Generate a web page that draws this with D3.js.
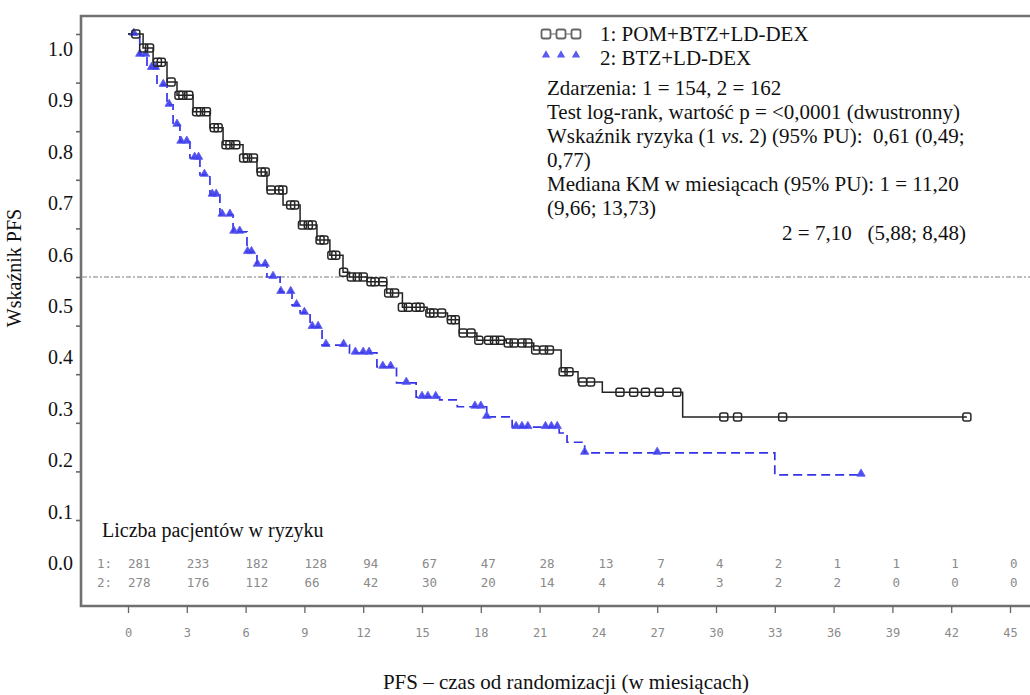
<!DOCTYPE html>
<html><head><meta charset="utf-8">
<script src="https://cdn.jsdelivr.net/npm/d3@7"></script>
<style>body{margin:0;background:#fff}svg{display:block}</style>
</head><body><svg id="c" width="1030" height="695"></svg>
<script>
// ---- data ----
const times1 = [0,0.77,1.28,1.99,2.5,3.32,4.18,4.85,5.87,6.58,7.09,7.91,8.78,9.64,10.3,10.97,11.3,12.2,13.2,14.0,15.26,16.3,16.9,17.8,19.3,20.7,22.1,22.96,24.2,28.3];
const surv1  = [1,0.971,0.942,0.901,0.874,0.840,0.807,0.772,0.745,0.716,0.679,0.648,0.607,0.576,0.545,0.510,0.500,0.490,0.467,0.438,0.426,0.412,0.385,0.370,0.364,0.350,0.305,0.284,0.263,0.212];
const cens1  = [0.4,0.8,1.1,1.5,1.7,2.2,2.6,2.8,3.1,3.5,3.7,4.0,4.4,4.6,5.0,5.2,5.5,5.9,6.1,6.4,6.8,7.0,7.3,7.7,7.9,8.3,8.5,8.9,9.2,9.4,9.8,10.0,10.4,10.6,11.0,11.4,11.7,12.0,12.4,12.6,13.0,13.3,13.6,14.0,14.3,14.7,14.9,15.4,15.6,16.0,16.5,16.7,17.1,17.5,17.9,18.4,18.7,19.0,19.4,19.7,20.1,20.4,20.8,21.2,21.5,22.2,22.5,23.2,23.6,25.1,25.8,26.4,27.1,28.0,30.4,31.1,33.4,42.8];
const times2 = [0,0.6,0.97,1.48,1.99,2.3,2.65,3.16,3.67,4.18,4.69,5.36,6.07,6.58,7.09,7.76,8.37,8.78,9.29,9.9,11.3,12.7,13.7,14.7,15.9,16.8,18.3,19.6,22.0,22.4,23.3,33.0];
const surv2  = [1,0.957,0.930,0.895,0.854,0.813,0.778,0.745,0.710,0.669,0.628,0.593,0.551,0.525,0.500,0.469,0.442,0.426,0.397,0.360,0.344,0.315,0.282,0.253,0.247,0.233,0.212,0.191,0.179,0.160,0.138,0.093];
const cens2  = [0.3,0.6,0.9,1.2,1.4,1.8,2.1,2.5,2.7,3.0,3.4,3.6,3.9,4.3,4.5,4.8,5.2,5.4,5.7,6.1,6.3,6.6,7.0,7.4,7.8,8.3,8.6,9.0,9.4,9.7,10.1,11.0,11.6,12.0,12.3,13.0,13.4,14.2,15.0,15.3,15.7,17.7,18.0,18.3,19.8,20.1,20.4,21.3,21.6,21.9,23.3,27.0,37.4];
const xTicks = [0,3,6,9,12,15,18,21,24,27,30,33,36,39,42,45];
const yTicks = [0,0.1,0.2,0.3,0.4,0.5,0.6,0.7,0.8,0.9,1.0];
const risk1 = [281,233,182,128,94,67,47,28,13,7,4,2,1,1,1,0];
const risk2 = [278,176,112,66,42,30,20,14,4,4,3,2,2,0,0,0];
const legendLabels = ["1: POM+BTZ+LD-DEX","2: BTZ+LD-DEX"];
const medianLevel = 0.5;

// ---- layout ----
const svg = d3.select("#c");
const serif = "'Liberation Serif','Times New Roman',serif";
const x = d3.scaleLinear().domain([0,45]).range([128,1010]);
const y = d3.scaleLinear().domain([0,1]).range([520,34]);
const yLab = d3.scaleLinear().domain([0,1]).range([563,49]);
const frameL = 81, frameT = 16, frameB = 606, frameR = 1030;

// frame
svg.append("path").attr("d",`M${frameR},${frameT}H${frameL}V${frameB}H${frameR}`)
  .attr("fill","none").attr("stroke","#707070").attr("stroke-width",2.6);

// median reference line
svg.append("line").attr("x1",frameL+1).attr("x2",frameR).attr("y1",y(medianLevel)).attr("y2",y(medianLevel))
  .attr("stroke","#a8a8a8").attr("stroke-width",1.3).attr("stroke-dasharray","5,2,2,2");

// y ticks (data scale)
const gy = svg.append("g").attr("transform",`translate(${frameL-1},0)`)
  .call(d3.axisLeft(y).tickValues(yTicks).tickSize(4).tickFormat(""));
gy.select(".domain").remove();
gy.selectAll("line").attr("stroke","#666").attr("stroke-width",1.6);
// y labels (as placed in picture)
svg.append("g").selectAll("text").data(yTicks).join("text")
  .attr("x",73).attr("y",d=>yLab(d)).attr("dy","0.35em").attr("text-anchor","end")
  .attr("font-family",serif).attr("font-size",20).attr("fill","#111").text(d=>d.toFixed(1));

// x axis
const gx = svg.append("g").attr("transform",`translate(0,${frameB})`)
  .call(d3.axisBottom(x).tickValues(xTicks).tickSize(7).tickPadding(15));
gx.select(".domain").remove();
gx.selectAll("line").attr("stroke","#666").attr("stroke-width",1.3);
gx.selectAll("text").attr("font-family","'DejaVu Sans Mono',monospace").attr("font-size",12).attr("fill","#8a8a8a");

// titles
svg.append("text").attr("transform","translate(21,268) rotate(-90)").attr("text-anchor","middle")
  .attr("font-family",serif).attr("font-size",20).attr("fill","#111").text("Wskaźnik PFS");
svg.append("text").attr("x",566).attr("y",689).attr("text-anchor","middle")
  .attr("font-family",serif).attr("font-size",21).attr("fill","#111").text("PFS – czas od randomizacji (w miesiącach)");

// at-risk table
svg.append("text").attr("x",102).attr("y",537).attr("font-family",serif).attr("font-size",20).attr("fill","#111").text("Liczba pacjentów w ryzyku");
const riskFont = "'DejaVu Sans Mono',monospace";
[[risk1,"1:",568],[risk2,"2:",587]].forEach(([arr,lab,yy])=>{
  svg.append("text").attr("x",97).attr("y",yy).attr("font-family",riskFont).attr("font-size",12.5).attr("fill","#8a8a8a").text(lab);
  svg.append("g").selectAll("text").data(arr).join("text")
    .attr("x",(d,i)=>x(xTicks[i])).attr("y",yy).attr("font-family",riskFont).attr("font-size",12.5).attr("fill","#8a8a8a").text(d=>d);
});

// curves
function stepData(ts,ss,endT){ const d = ts.map((t,i)=>[t,ss[i]]); d.push([endT,ss[ss.length-1]]); return d; }
function survAt(ts,ss,t){ const i = d3.bisectRight(ts,t)-1; return ss[Math.max(0,i)]; }
const line = d3.line().x(d=>x(d[0])).y(d=>y(d[1])).curve(d3.curveStepAfter);
const d1 = stepData(times1,surv1,d3.max(cens1));
const d2 = stepData(times2,surv2,d3.max(cens2));
svg.append("path").attr("d",line(d2)).attr("fill","none").attr("stroke","#3434e6").attr("stroke-width",1.7).attr("stroke-dasharray","9,5");
svg.append("path").attr("d",line(d1)).attr("fill","none").attr("stroke","#222").attr("stroke-width",1.5);

const tri = d3.symbol().type(d3.symbolTriangle).size(30);
svg.append("g").selectAll("path").data(cens2).join("path")
  .attr("transform",t=>`translate(${x(t)},${y(survAt(times2,surv2,t))-1})`).attr("d",tri)
  .attr("fill","#3b3bec").attr("fill-opacity",0.9).attr("stroke","#5a5af0").attr("stroke-width",0.8);
svg.append("g").selectAll("rect").data(cens1).join("rect")
  .attr("x",t=>x(t)-4).attr("y",t=>y(survAt(times1,surv1,t))-4).attr("width",8).attr("height",8).attr("rx",2)
  .attr("fill","none").attr("stroke","#262626").attr("stroke-width",1.5);

// legend
const lg = svg.append("g");
lg.append("line").attr("x1",546).attr("x2",576).attr("y1",34).attr("y2",34).attr("stroke","#666");
[546,561,576].forEach(cx=>{
  lg.append("rect").attr("x",cx-4.5).attr("y",29.5).attr("width",9).attr("height",9).attr("rx",2).attr("fill","#fff").attr("stroke","#666").attr("stroke-width",1.8);
  lg.append("path").attr("transform",`translate(${cx},55)`).attr("d",tri).attr("fill","#5b5bf0");
});
lg.selectAll("text").data(legendLabels).join("text").attr("x",600).attr("y",(d,i)=>41+i*23.5)
  .attr("font-family",serif).attr("font-size",21).attr("fill","#111").text(d=>d);

// statistics block
const stats = svg.append("g").attr("font-family",serif).attr("font-size",21).attr("fill","#111");
stats.append("text").attr("x",547).attr("y",95).text("Zdarzenia: 1 = 154, 2 = 162");
stats.append("text").attr("x",547).attr("y",119).text("Test log-rank, wartość p = <0,0001 (dwustronny)");
const t3 = stats.append("text").attr("x",547).attr("y",143).style("white-space","pre");
t3.append("tspan").text("Wskaźnik ryzyka (1 ");
t3.append("tspan").attr("font-style","italic").text("vs.");
t3.append("tspan").text(" 2) (95% PU):  0,61 (0,49;");
stats.append("text").attr("x",547).attr("y",167).text("0,77)");
stats.append("text").attr("x",547).attr("y",191).text("Mediana KM w miesiącach (95% PU): 1 = 11,20");
stats.append("text").attr("x",547).attr("y",215).text("(9,66; 13,73)");
stats.append("text").attr("x",966).attr("y",240).attr("text-anchor","end").style("white-space","pre").text("2 = 7,10   (5,88; 8,48)");
</script></body></html>
